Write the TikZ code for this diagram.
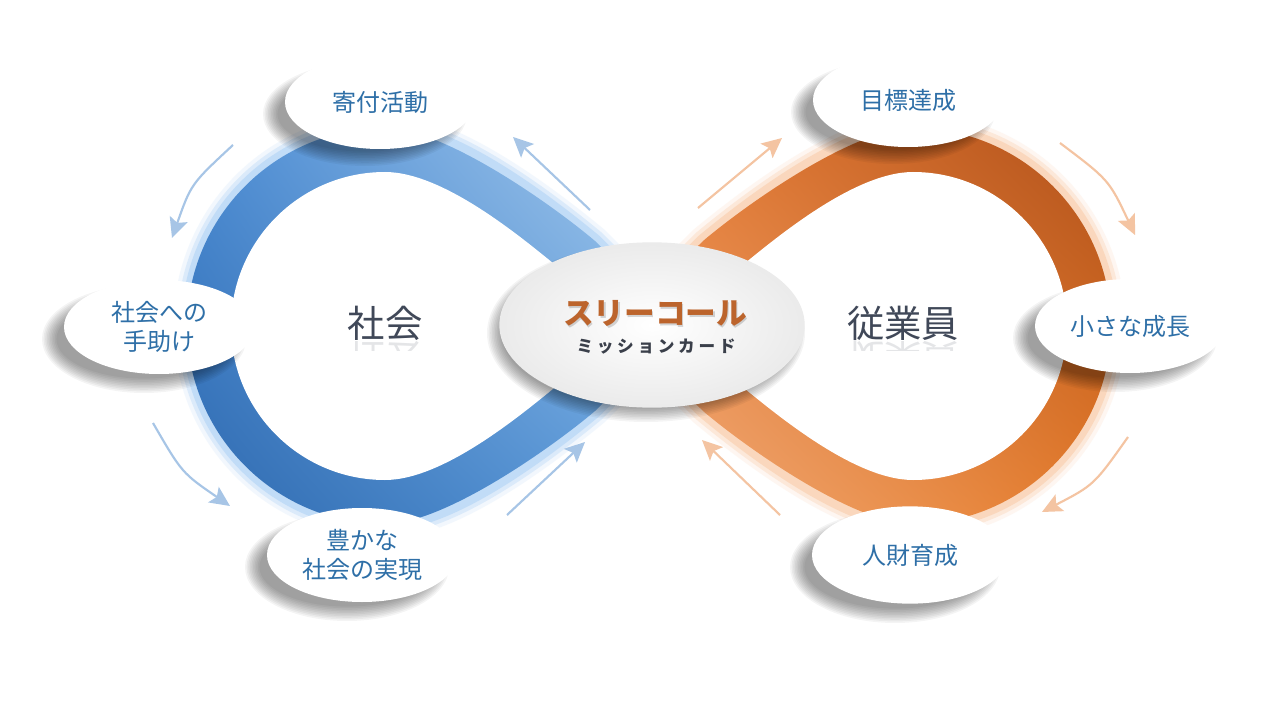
\documentclass[tikz,border=0pt]{standalone}
\usepackage{fontspec}
\setmainfont{Noto Sans CJK JP}
\usetikzlibrary{shapes.geometric,arrows.meta,shadings}
\definecolor{txtblue}{HTML}{2E6FA7}
\definecolor{labelgray}{HTML}{404858}
\definecolor{titleorange}{HTML}{BC642C}
\definecolor{subdark}{HTML}{3A3F4A}
\definecolor{arrblue}{HTML}{A7C5E6}
\definecolor{arrorange}{HTML}{F4C4A2}
\definecolor{glowblue}{HTML}{A9CFF5}
\definecolor{gloworange}{HTML}{F9C8A2}
\definecolor{bUL}{HTML}{4A8BD3}
\definecolor{bUR}{HTML}{A8CCEE}
\definecolor{bLL}{HTML}{2D68AE}
\definecolor{bLR}{HTML}{5B9BDC}
\definecolor{oUL}{HTML}{EA8038}
\definecolor{oUR}{HTML}{B0501A}
\definecolor{oLL}{HTML}{F3B080}
\definecolor{oLR}{HTML}{E57A28}
\def\bluepath{(649,326) -- (580,257) .. controls (540,224) and (445,150) .. (385,150) .. controls (288,150) and (210,229) .. (210,326) .. controls (210,423) and (288,502) .. (385,502) .. controls (445,502) and (540,428) .. (580,395) -- (649,326)}
\def\orangepath{(649,326) -- (718,257) .. controls (758,224) and (853,150) .. (913,150) .. controls (1010,150) and (1089,229) .. (1089,326) .. controls (1089,423) and (1010,502) .. (913,502) .. controls (853,502) and (758,428) .. (718,395) -- (649,326)}
% soft shadow: centre x, centre y, half width, half height
\newcommand{\softshade}[4]{%
  \foreach \i in {0,...,9}{%
    \fill[black,opacity=0.045] (#1,#2) ellipse [x radius={#3+7-1.6*\i}, y radius={#4+7-1.6*\i}];}}
\begin{document}
\begin{tikzpicture}[x=0.75pt,y=-0.75pt,
  sat/.style={ellipse,fill=white,minimum width=142.5pt,minimum height=70.5pt,inner sep=0pt,
    align=center,text=txtblue,font=\fontsize{18}{21.5}\selectfont},
  biglabel/.style={font=\fontsize{28}{28}\selectfont,text=labelgray},
  flowblue/.style={draw=arrblue,line width=1.6pt,-{Stealth[length=15pt,width=14pt,inset=3pt]}},
  floworange/.style={draw=arrorange,line width=1.6pt,-{Stealth[length=15pt,width=14pt,inset=3pt]}},
  glowb/.style={draw=glowblue,line cap=round},
  glowo/.style={draw=gloworange,line cap=round}]
\fill[white] (0,0) rectangle (1280,720);
\useasboundingbox (0,0) rectangle (1280,720);
% glow
\draw[glowb,line width=55pt,opacity=.15] \bluepath;
\draw[glowb,line width=49pt,opacity=.3] \bluepath;
\draw[glowb,line width=43pt,opacity=.5] \bluepath;
\draw[glowo,line width=55pt,opacity=.15] \orangepath;
\draw[glowo,line width=49pt,opacity=.3] \orangepath;
\draw[glowo,line width=43pt,opacity=.5] \orangepath;
% blue band
\shade[upper left=bUL,upper right=bUR,lower left=bLL,lower right=bLR]
  (664.6,310.4) -- (595,241) .. controls (555,207) and (445,128) .. (385,128)
  .. controls (276,128) and (187,217) .. (187,326)
  .. controls (187,435) and (276,524) .. (385,524)
  .. controls (445,524) and (555,445) .. (595,411) -- (664.6,341.6) -- cycle;
\fill[white] (618,326) -- (565,273) .. controls (526,241) and (445,172) .. (385,172)
  .. controls (300,172) and (231,241) .. (231,326)
  .. controls (231,411) and (300,480) .. (385,480)
  .. controls (445,480) and (526,411) .. (565,379) -- cycle;
% orange band
\shade[upper left=oUL,upper right=oUR,lower left=oLL,lower right=oLR]
  (633.4,310.4) -- (703,241) .. controls (743,207) and (853,128) .. (913,128)
  .. controls (1022,128) and (1111,217) .. (1111,326)
  .. controls (1111,435) and (1022,524) .. (913,524)
  .. controls (853,524) and (743,445) .. (703,411) -- (633.4,341.6) -- cycle;
\fill[white] (680,326) -- (733,273) .. controls (772,241) and (853,172) .. (913,172)
  .. controls (998,172) and (1067,241) .. (1067,326)
  .. controls (1067,411) and (998,480) .. (913,480)
  .. controls (853,480) and (772,411) .. (733,379) -- cycle;
% arrow end points
\coordinate (b1s) at (233,145); \coordinate (b1e) at (172,238);
\coordinate (b2s) at (590,210); \coordinate (b2e) at (513,137);
\coordinate (b3s) at (153,423); \coordinate (b3e) at (230,506);
\coordinate (b4s) at (507,515); \coordinate (b4e) at (585,442);
\coordinate (o1s) at (698,208); \coordinate (o1e) at (782,138);
\coordinate (o2s) at (1060,143); \coordinate (o2e) at (1135,235);
\coordinate (o3s) at (780,515); \coordinate (o3e) at (702,440);
\coordinate (o4s) at (1128,437); \coordinate (o4e) at (1042,512);
\draw[flowblue] (b1s) .. controls (191,184) .. (b1e);
\draw[flowblue] (b2s) -- (b2e);
\draw[flowblue] (b3s) .. controls (182,473) .. (b3e);
\draw[flowblue] (b4s) -- (b4e);
\draw[floworange] (o1s) -- (o1e);
\draw[floworange] (o2s) .. controls (1109,180) .. (o2e);
\draw[floworange] (o3s) -- (o3e);
\draw[floworange] (o4s) .. controls (1094,485) .. (o4e);
% satellite shadows
\softshade{365}{114}{95}{45}
\softshade{893}{112}{95}{45}
\softshade{144}{339}{95}{47}
\softshade{1115}{338}{95}{47}
\softshade{347}{567}{95}{47}
\softshade{895}{567}{98}{49}
% satellites
\node[sat] (kifu) at (380,102) {寄付活動};
\node[sat] (mokuhyo) at (908,100) {目標達成};
\node[sat] (tedasuke) at (159,327) {社会への\\手助け};
\node[sat] (seicho) at (1130,326) {小さな成長};
\node[sat] (yutaka) at (362,555) {豊かな\\社会の実現};
\node[sat,minimum width=147pt,minimum height=73pt] (jinzai) at (910,555) {人財育成};
% centre
\softshade{646}{333}{152}{82}
\node[ellipse,minimum width=229pt,minimum height=124pt,inner sep=0pt,
  inner color=white,outer color=gray!16] (core) at (652,325) {};
\node[font=\bfseries\fontsize{23}{23}\selectfont,text=black,opacity=.16] (titleshadow) at (656.5,315.5) {スリーコール};
\node[font=\bfseries\fontsize{23}{23}\selectfont,text=titleorange] (title) at (655,313) {スリーコール};
\node[font=\bfseries\fontsize{12.5}{12.5}\selectfont\addfontfeatures{LetterSpace=22},text=subdark] (sub) at (656,347) {ミッションカード};
% big labels
\node[biglabel] (shakai) at (385,323) {社会};
\node[biglabel] (jugyoin) at (903,323) {従業員};
% faint reflections of the big labels
\begin{scope}
  \clip (330,341) rectangle (440,350);
  \begin{scope}[shift={(385,359)},yscale=-1]
    \node[biglabel,transform shape,opacity=.14] (shakaiR) at (0,0) {社会};
  \end{scope}
\end{scope}
\begin{scope}
  \clip (830,341) rectangle (980,350);
  \begin{scope}[shift={(903,359)},yscale=-1]
    \node[biglabel,transform shape,opacity=.14] (jugyoinR) at (0,0) {従業員};
  \end{scope}
\end{scope}
\end{tikzpicture}
\end{document}
